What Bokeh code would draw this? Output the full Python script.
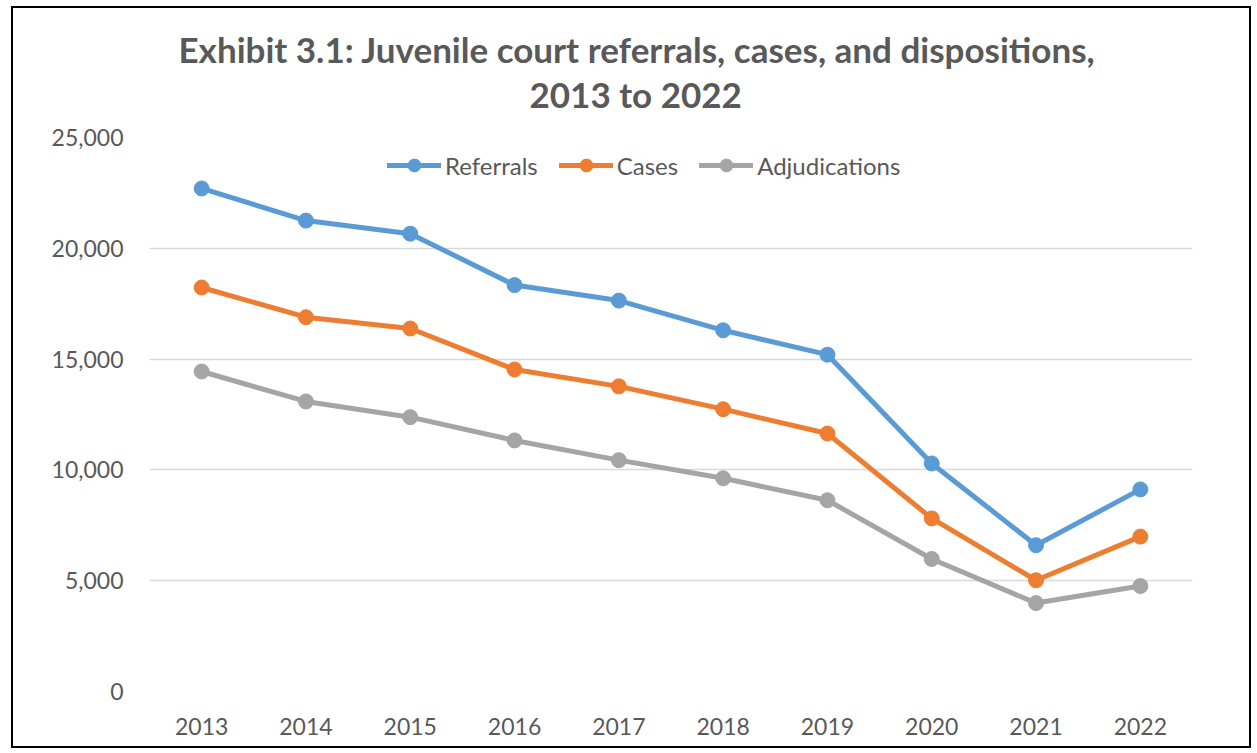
from bokeh.plotting import figure
from bokeh.models import ColumnDataSource, Title, Legend, LegendItem, NumeralTickFormatter, FixedTicker
from bokeh.embed import file_html
from bokeh.resources import INLINE

years = ["2013", "2014", "2015", "2016", "2017", "2018", "2019", "2020", "2021", "2022"]
referrals = [22700, 21250, 20660, 18340, 17640, 16300, 15200, 10290, 6600, 9120]
cases = [18230, 16890, 16380, 14530, 13770, 12740, 11640, 7810, 5020, 6990]
adjudications = [14440, 13090, 12380, 11330, 10440, 9620, 8630, 5980, 3990, 4760]
y_ticks = [0, 5000, 10000, 15000, 20000, 25000]
title_lines = ["Exhibit 3.1: Juvenile court referrals, cases, and dispositions,", "2013 to 2022"]

FONT = "Lato"
TXT = "#595959"

src = ColumnDataSource(dict(year=years, referrals=referrals, cases=cases, adjudications=adjudications))

p = figure(x_range=years, y_range=(0, 25000), width=1240, height=742,
           output_backend="svg", toolbar_location=None,
           min_border_left=136, min_border_right=61, min_border_top=129, min_border_bottom=59,
           styles={"border": "2px solid black", "margin-left": "11px", "margin-top": "6px"})
p.outline_line_color = None

series = [("referrals", "Referrals", "#5b9bd5"),
          ("cases", "Cases", "#ed7d31"),
          ("adjudications", "Adjudications", "#a5a5a5")]
items = []
for col, label, color in series:
    l = p.line("year", col, source=src, line_width=5, line_color=color, line_cap="round")
    s = p.scatter("year", col, source=src, size=15, fill_color=color, line_color=color)
    items.append(LegendItem(label=label, renderers=[l, s]))

legend = Legend(items=items, location=(238, 510), orientation="horizontal",
                label_text_font=FONT, label_text_font_size="24px", label_text_color=TXT,
                glyph_width=54, glyph_height=32, spacing=21, label_standoff=4,
                border_line_color=None, background_fill_alpha=0, margin=0, padding=0)
p.add_layout(legend, "center")

p.yaxis.ticker = FixedTicker(ticks=y_ticks)
p.yaxis.formatter = NumeralTickFormatter(format="0,0")
for ax in (p.xaxis, p.yaxis):
    ax.axis_line_color = None
    ax.major_tick_line_color = None
    ax.minor_tick_line_color = None
    ax.major_label_text_font = FONT
    ax.major_label_text_font_size = "23px"
    ax.major_label_text_color = TXT
p.yaxis.major_label_standoff = 20
p.xaxis.major_label_standoff = 20

p.xgrid.grid_line_color = None
p.ygrid.grid_line_color = "#d9d9d9"
p.ygrid.grid_line_width = 1.5

t2 = Title(text=title_lines[1], align="left", text_font=FONT, text_font_size="35px",
           text_font_style="bold", text_color=TXT, offset=380, standoff=46)
t1 = Title(text=title_lines[0], align="left", text_font=FONT, text_font_size="35px",
           text_font_style="bold", text_color=TXT, offset=29, standoff=-44)
p.add_layout(t2, "above")
p.add_layout(t1, "above")

open("out.html", "w").write(file_html(p, INLINE))
